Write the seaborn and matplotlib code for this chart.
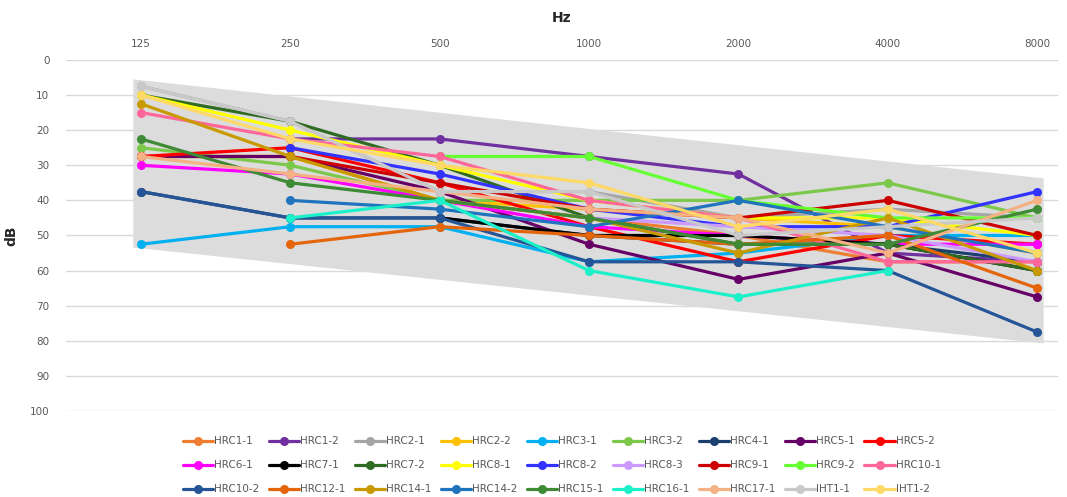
import numpy as np
import pandas as pd
import seaborn as sns
import matplotlib.pyplot as plt

freqs = ["125", "250", "500", "1000", "2000", "4000", "8000"]
nan = np.nan

# hearing thresholds (dB) per ear
hrc1_1 = [27.5, 27.5, 40, 45, 50, 57.5, 57.5]
hrc1_2 = [nan, 22.5, 22.5, 27.5, 32.5, 55, 57.5]
hrc2_1 = [7.5, 17.5, 37.5, 37.5, 45, 42.5, 45]
hrc2_2 = [27.5, 27.5, 40, 42.5, 45, 47.5, 55]
hrc3_1 = [52.5, 47.5, 47.5, 57.5, 55, 50, 50]
hrc3_2 = [25, 30, 40, 40, 40, 35, 45]
hrc4_1 = [37.5, 45, 45, 50, 52.5, 52.5, 57.5]
hrc5_1 = [27.5, 27.5, 37.5, 52.5, 62.5, 55, 67.5]
hrc5_2 = [27.5, 25, 35, 47.5, 57.5, 50, 52.5]
hrc6_1 = [30, 32.5, 40, 47.5, 50, 52.5, 52.5]
hrc7_1 = [nan, nan, 45, 50, 50, 52.5, 60]
hrc7_2 = [10, 17.5, 30, 45, 52.5, 52.5, 60]
hrc8_1 = [10, 20, 30, 40, 45, 45, 50]
hrc8_2 = [nan, 25, 32.5, 42.5, 47.5, 47.5, 37.5]
hrc8_3 = [nan, nan, 40, 45, 47.5, 50, 57.5]
hrc9_1 = [nan, 27.5, 35, 42.5, 45, 40, 50]
hrc9_2 = [nan, nan, 27.5, 27.5, 40, 45, 45]
hrc10_1 = [15, 22.5, 27.5, 40, 45, 57.5, 57.5]
hrc10_2 = [37.5, 45, 45, 57.5, 57.5, 60, 77.5]
hrc12_1 = [nan, 52.5, 47.5, 50, 52.5, 50, 65]
hrc14_1 = [12.5, 27.5, 40, 45, 55, 45, 60]
hrc14_2 = [nan, 40, 42.5, 47.5, 40, 47.5, 55]
hrc15_1 = [22.5, 35, 40, 45, 52.5, 52.5, 42.5]
hrc16_1 = [nan, 45, 40, 60, 67.5, 60, nan]
hrc17_1 = [27.5, 32.5, 37.5, 42.5, 45, 55, 40]
iht1_1 = [7.5, 17.5, 37.5, 37.5, 50, 47.5, 45]
iht1_2 = [10, 22.5, 30, 35, 47.5, 42.5, 55]

# grey range band (upper / lower edge at first and last frequency)
band_x = [-0.055, 6.04]
band_top = [5.4, 33.6]
band_bottom = [53.3, 80.6]

series = {
    "HRC1-1": (hrc1_1, "#ED7D31"), "HRC1-2": (hrc1_2, "#7030A0"),
    "HRC2-1": (hrc2_1, "#A5A5A5"), "HRC2-2": (hrc2_2, "#FFC000"),
    "HRC3-1": (hrc3_1, "#00B0F0"), "HRC3-2": (hrc3_2, "#7CC84A"),
    "HRC4-1": (hrc4_1, "#1B3F6E"), "HRC5-1": (hrc5_1, "#660066"),
    "HRC5-2": (hrc5_2, "#FF0000"), "HRC6-1": (hrc6_1, "#FF00FF"),
    "HRC7-1": (hrc7_1, "#000000"), "HRC7-2": (hrc7_2, "#2F6B22"),
    "HRC8-1": (hrc8_1, "#FFFF00"), "HRC8-2": (hrc8_2, "#3333FF"),
    "HRC8-3": (hrc8_3, "#CC99FF"), "HRC9-1": (hrc9_1, "#CC0000"),
    "HRC9-2": (hrc9_2, "#66FF33"), "HRC10-1": (hrc10_1, "#FF6699"),
    "HRC10-2": (hrc10_2, "#255596"), "HRC12-1": (hrc12_1, "#E4650A"),
    "HRC14-1": (hrc14_1, "#C99A00"), "HRC14-2": (hrc14_2, "#1F74BD"),
    "HRC15-1": (hrc15_1, "#3E8A35"), "HRC16-1": (hrc16_1, "#1CF0C8"),
    "HRC17-1": (hrc17_1, "#F4B183"), "IHT1-1": (iht1_1, "#C9C9C9"),
    "IHT1-2": (iht1_2, "#FFD966"),
}

rows = []
for name, (vals, _) in series.items():
    for i, v in enumerate(vals):
        rows.append({"series": name, "pos": i, "dB": v})
df = pd.DataFrame(rows).dropna()
palette = {k: c for k, (_, c) in series.items()}

sns.set_style("white")
plt.rcParams["font.family"] = ["DejaVu Sans"]

fig = plt.figure(figsize=(10.67, 4.97), dpi=100)
ax = fig.add_axes([0.0619, 0.173, 0.9297, 0.7064])

ax.fill_between(band_x, band_top, band_bottom, color="#DCDCDC", lw=0, zorder=1)

sns.lineplot(data=df, x="pos", y="dB", hue="series", palette=palette,
             hue_order=list(series.keys()), marker="o", markersize=6.5,
             markeredgewidth=0, linewidth=2.3, estimator=None, sort=True,
             ax=ax, zorder=3)

ax.set_xlim(-0.502, 6.14)
ax.set_ylim(100, 0)
ax.set_yticks(range(0, 101, 10))
ax.set_xticks(range(len(freqs)))
ax.set_xticklabels(freqs)
ax.xaxis.tick_top()
ax.xaxis.set_label_position("top")
ax.set_xlabel("Hz", fontsize=10, fontweight="bold", labelpad=12)
ax.set_ylabel("dB", fontsize=10, fontweight="bold", labelpad=8)
ax.tick_params(axis="both", length=0, labelsize=7.5, labelcolor="#595959")
ax.tick_params(axis="x", pad=8)
ax.tick_params(axis="y", pad=12)
ax.grid(axis="y", color="#D9D9D9", lw=1)
ax.set_axisbelow(True)
for s in ax.spines.values():
    s.set_visible(False)

handles, labels = ax.get_legend_handles_labels()
ncol = 9
order = []
for c in range(ncol):
    for r in range(3):
        k = r * ncol + c
        if k < len(handles):
            order.append(k)
ax.legend([handles[k] for k in order], [labels[k] for k in order],
          ncol=ncol, loc="upper center", bbox_to_anchor=(0.5, -0.045),
          frameon=False, fontsize=7.5, handlelength=2.9, columnspacing=0.9,
          handletextpad=0.1, labelspacing=1.35, labelcolor="#595959")

fig.savefig("out.png", dpi=100)
